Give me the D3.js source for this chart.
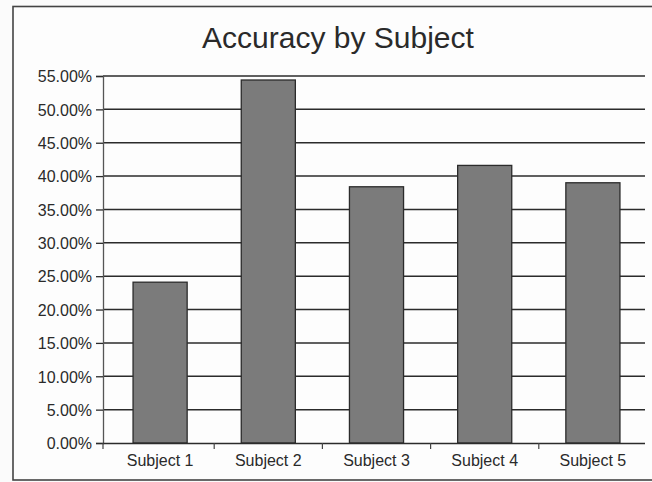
<!DOCTYPE html>
<html>
<head>
<meta charset="utf-8">
<script src="https://cdn.jsdelivr.net/npm/d3@7"></script>
<style>
  html, body { margin: 0; padding: 0; background: #fbfbfb; }
  svg { display: block; }
  text { font-family: "Liberation Sans", Arial, sans-serif; fill: #2a2a2a; }
</style>
</head>
<body>
<svg id="chart" width="652" height="482"></svg>
<script>
const categories = ["Subject 1", "Subject 2", "Subject 3", "Subject 4", "Subject 5"];
const accuracy = [0.241, 0.544, 0.384, 0.416, 0.390];
const yTicks = [0, 0.05, 0.10, 0.15, 0.20, 0.25, 0.30, 0.35, 0.40, 0.45, 0.50, 0.55];
const title = "Accuracy by Subject";

const svg = d3.select("#chart");
const plot = { left: 103, right: 645, top: 76, bottom: 443, bandLeft: 106, bandRight: 647 };

// outer frame
svg.append("rect")
  .attr("x", 13).attr("y", 6.5)
  .attr("width", 660).attr("height", 473.5)
  .attr("fill", "#fdfdfd")
  .attr("stroke", "#444").attr("stroke-width", 1.6);

svg.append("text")
  .attr("x", 338).attr("y", 48)
  .attr("text-anchor", "middle")
  .style("font-size", "30px")
  .text(title);

const x = d3.scaleBand()
  .domain(categories)
  .range([plot.bandLeft, plot.bandRight])
  .paddingInner(0.5)
  .paddingOuter(0.25);

const y = d3.scaleLinear()
  .domain([0, 0.55])
  .range([plot.bottom, plot.top]);

// gridlines
svg.append("g")
  .selectAll("line")
  .data(yTicks.filter(d => d > 0))
  .join("line")
  .attr("x1", plot.left).attr("x2", plot.right)
  .attr("y1", d => y(d)).attr("y2", d => y(d))
  .attr("stroke", "#2b2b2b").attr("stroke-width", 1.5);

// bars
svg.append("g")
  .selectAll("rect")
  .data(categories)
  .join("rect")
  .attr("x", d => x(d))
  .attr("width", x.bandwidth())
  .attr("y", (d, i) => y(accuracy[i]))
  .attr("height", (d, i) => y(0) - y(accuracy[i]))
  .attr("fill", "#7b7b7b")
  .attr("stroke", "#2b2b2b").attr("stroke-width", 1.3);

// y axis
const yAxis = svg.append("g")
  .attr("transform", `translate(${plot.left},0)`)
  .call(d3.axisLeft(y).tickValues(yTicks).tickFormat(d3.format(".2%")).tickSize(7).tickPadding(4));
yAxis.select(".domain").attr("stroke", "#555").attr("stroke-width", 1.3);
yAxis.selectAll(".tick line").attr("stroke", "#2b2b2b").attr("stroke-width", 1.3);
yAxis.selectAll("text").style("font-size", "16px").attr("fill", "#2e2e2e").attr("dy", "0.36em");

// x axis
const xAxis = svg.append("g")
  .attr("transform", `translate(0,${plot.bottom})`)
  .call(d3.axisBottom(x).tickSize(0).tickPadding(12));
xAxis.select(".domain").attr("stroke", "#2b2b2b").attr("stroke-width", 1.5)
  .attr("d", `M${plot.left},0.5H${plot.right}`);
xAxis.selectAll("text").style("font-size", "16px").attr("fill", "#2e2e2e");

// category boundary ticks
const step = x.step();
const gap = step - x.bandwidth();
const boundaries = categories.slice(1).map(c => x(c) - gap / 2);
svg.append("g")
  .selectAll("line")
  .data([plot.left].concat(boundaries))
  .join("line")
  .attr("x1", d => d).attr("x2", d => d)
  .attr("y1", plot.bottom).attr("y2", plot.bottom + 6)
  .attr("stroke", "#444").attr("stroke-width", 1.2);
</script>
</body>
</html>
